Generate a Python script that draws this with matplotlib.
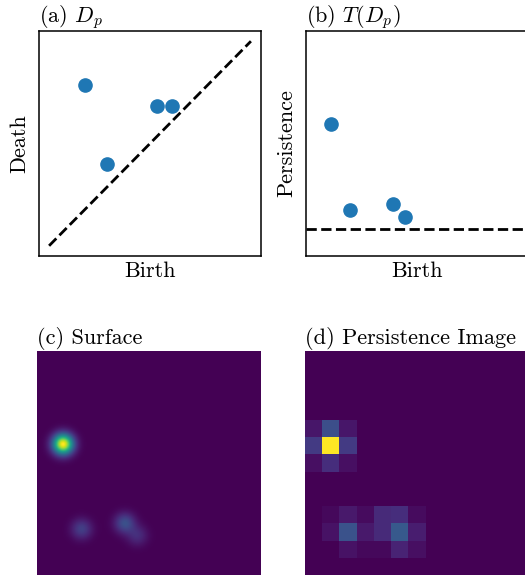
import numpy as np
import matplotlib
matplotlib.use("Agg")
import matplotlib.pyplot as plt

plt.rcParams['font.family'] = 'serif'
plt.rcParams['font.serif'] = ['cmr10']
plt.rcParams['mathtext.fontset'] = 'cm'
plt.rcParams['axes.unicode_minus'] = False
plt.rcParams['axes.linewidth'] = 1.1

# persistence diagram points
birth = [0.178, 0.285, 0.535, 0.607]
death = [0.787, 0.398, 0.682, 0.682]
diag = [0.0, 1.0]

# limits of the birth-persistence plane (b, c, d share them)
tx_lim = [0.029, 1.32]
ty_lim = [-0.154, 1.151]
sigma = 0.041

pi_shape = (13, 13)
pi_cells = [
    (4, 0, 0.06), (4, 1, 0.24), (4, 2, 0.06),
    (5, 0, 0.17), (5, 1, 1.00), (5, 2, 0.17),
    (6, 0, 0.04), (6, 1, 0.13), (6, 2, 0.04),
    (9, 1, 0.02), (9, 2, 0.07), (9, 3, 0.03), (9, 4, 0.12), (9, 5, 0.13), (9, 6, 0.03),
    (10, 1, 0.05), (10, 2, 0.25), (10, 3, 0.07), (10, 4, 0.12), (10, 5, 0.28), (10, 6, 0.08),
    (11, 2, 0.05), (11, 3, 0.02), (11, 4, 0.02), (11, 5, 0.10), (11, 6, 0.04),
]

birth = np.array(birth)
death = np.array(death)
pers = death - birth

fig = plt.figure(figsize=(5.25, 5.77), dpi=100)
W, H = 525.0, 577.0

def place(x0, y0, w, h):
    return fig.add_axes([x0 / W, 1 - (y0 + h) / H, w / W, h / H])

fs = 16
blue = '#1f77b4'

# (a) diagram
ax = place(39, 31, 222, 225)
ax.plot(diag, diag, 'k--', lw=2)
ax.plot(birth, death, 'o', color=blue, ms=9.5)
ax.set_xlim(-0.05, 1.05)
ax.set_ylim(-0.05, 1.05)
ax.set_xticks([])
ax.set_yticks([])
ax.set_xlabel('Birth', fontsize=fs, labelpad=4)
ax.set_ylabel('Death', fontsize=fs, labelpad=7)
ax.set_title('(a) $D_p$', loc='left', fontsize=fs, pad=5)

# (b) transformed
ax = place(305.7, 31, 222, 225)
ax.axhline(0, color='k', ls='--', lw=2)
ax.plot(birth, pers, 'o', color=blue, ms=9.5)
ax.set_xlim(tx_lim)
ax.set_ylim(ty_lim)
ax.set_xticks([])
ax.set_yticks([])
ax.set_xlabel('Birth', fontsize=fs, labelpad=4)
ax.set_ylabel('Persistence', fontsize=fs, labelpad=7)
ax.set_title('(b) $T(D_p)$', loc='left', fontsize=fs, pad=5)

# (c) surface
xs = np.linspace(tx_lim[0], tx_lim[1], 300)
ys = np.linspace(ty_lim[0], ty_lim[1], 300)
X, Y = np.meshgrid(xs, ys)
surf = np.zeros_like(X)
for b, p in zip(birth, pers):
    surf += p * np.exp(-((X - b) ** 2 + (Y - p) ** 2) / (2 * sigma ** 2))

ax = place(37, 351, 224, 224)
ax.imshow(surf, origin='lower', cmap='viridis', aspect='auto',
          extent=[tx_lim[0], tx_lim[1], ty_lim[0], ty_lim[1]])
ax.axis('off')
ax.set_title('(c) Surface', loc='left', fontsize=fs, pad=5)

# (d) persistence image
img = np.zeros(pi_shape)
for r, c, v in pi_cells:
    img[r, c] = v

ax = place(305, 351, 224, 224)
ax.imshow(img, cmap='viridis', aspect='auto', interpolation='nearest')
ax.axis('off')
ax.set_title('(d) Persistence Image', loc='left', fontsize=fs, pad=5)

fig.savefig('out.png', dpi=100)
